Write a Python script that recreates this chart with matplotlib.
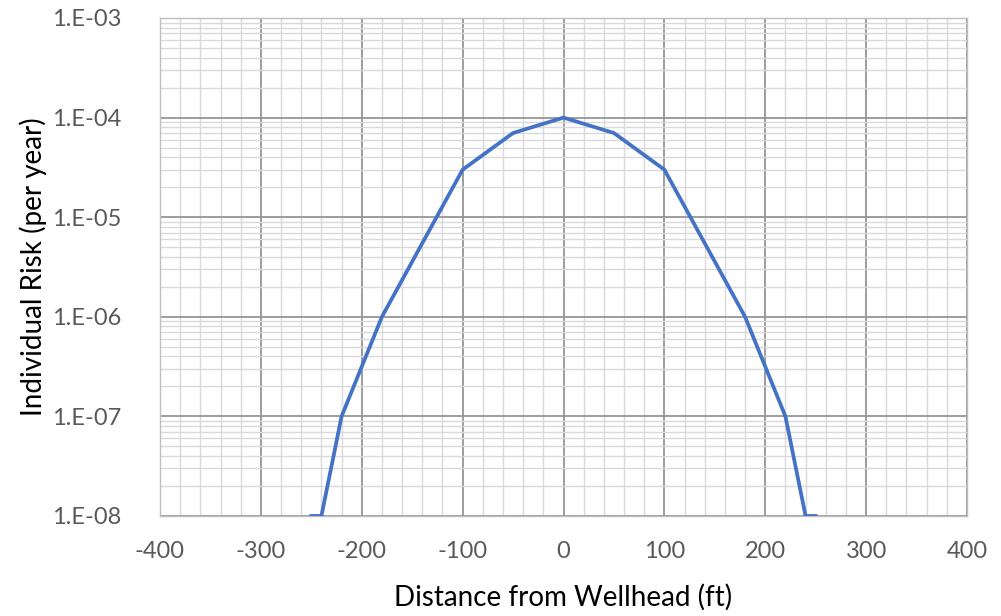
import math
import matplotlib
matplotlib.use("Agg")
import matplotlib.pyplot as plt
from matplotlib.ticker import MultipleLocator, LogLocator, FuncFormatter

# distance from wellhead (ft) and individual risk (per year)
distance = [-250, -240, -220, -180, -100, -50, 0, 50, 100, 180, 220, 240, 250]
risk = [1e-8, 1e-8, 1e-7, 1e-6, 3e-5, 7e-5, 1e-4, 7e-5, 3e-5, 1e-6, 1e-7, 1e-8, 1e-8]

plt.rcParams['font.family'] = ['Lato', 'DejaVu Sans']
plt.rcParams['axes.unicode_minus'] = False

fig = plt.figure(figsize=(10.01, 6.16), dpi=100)
ax = fig.add_axes([160/1001, 1 - 516/616, (967-160)/1001, (516-18)/616])

ax.plot(distance, risk, color='#4472C4', linewidth=2.7, zorder=3)

ax.set_yscale('log')
ax.set_xlim(-400, 400)
ax.set_ylim(1e-8, 1e-3)

ax.xaxis.set_major_locator(MultipleLocator(100))
ax.xaxis.set_minor_locator(MultipleLocator(20))
ax.xaxis.set_major_formatter(FuncFormatter(lambda v, p: '%d' % v))
ax.yaxis.set_major_locator(LogLocator(base=10, numticks=10))
ax.yaxis.set_minor_locator(LogLocator(base=10, subs=range(2, 10), numticks=20))
ax.yaxis.set_major_formatter(FuncFormatter(lambda v, p: '1.E%+03d' % round(math.log10(v)) if v > 0 else ''))
ax.yaxis.set_minor_formatter(FuncFormatter(lambda v, p: ''))

ax.grid(which='major', color='#959595', linewidth=1.3)
ax.grid(which='minor', color='#d9d9d9', linewidth=1.0)
ax.set_axisbelow(True)

for s in ax.spines.values():
    s.set_color('#bfbfbf')
    s.set_linewidth(1.0)

ax.tick_params(which='both', length=0, colors='#595959', labelsize=17)
ax.tick_params(axis='x', pad=18)
ax.tick_params(axis='y', pad=28)

ax.set_xlabel('Distance from Wellhead (ft)', fontsize=20, color='#000000', labelpad=16)
ax.set_ylabel('Individual Risk (per year)', fontsize=20, color='#000000', labelpad=3)

fig.savefig('out.png', dpi=100)
